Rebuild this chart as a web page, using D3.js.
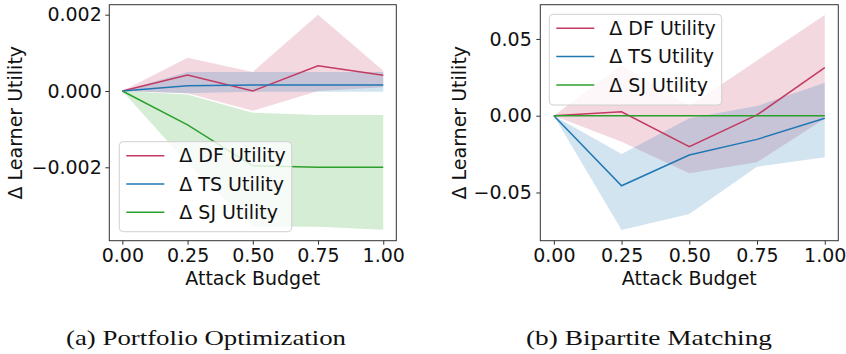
<!DOCTYPE html>
<html>
<head>
<meta charset="utf-8">
<style>
  body { margin: 0; background: #fff; }
  svg text { font-family: "DejaVu Sans", sans-serif; fill: #111; }
  .tick text { font-size: 19px; font-family: "DejaVu Sans", sans-serif; }
  .tick line { stroke: #333; }
  .domain { display: none; }
  .frame { fill: none; stroke: #333; stroke-width: 1; }
  .caption { font-family: "Liberation Serif", "DejaVu Serif", serif !important; font-size: 22px; }
</style>
</head>
<body>
<script src="https://d3js.org/d3.v7.min.js"></script>
<script>
// x values: attack budget
var budgets = [0, 0.25, 0.5, 0.75, 1.0];
var seriesNames = ["\u0394 DF Utility", "\u0394 TS Utility", "\u0394 SJ Utility"];
var seriesColors = ["#c23a62", "#1f77b4", "#2ca02c"];

// (a) Portfolio Optimization - mean, lower, upper
var pfDF   = [0, 0.00042, 0.0, 0.00066, 0.00041];
var pfDFLo = [0, -0.00006, -0.00052, 0.0, 0.0001];
var pfDFHi = [0, 0.00087, 0.0005, 0.002, 0.00053];
var pfTS   = [0, 0.00014, 0.00016, 0.00016, 0.00016];
var pfTSLo = [0, -0.00006, -0.00002, -0.00002, -0.00002];
var pfTSHi = [0, 0.0005, 0.0005, 0.0005, 0.0005];
var pfSJ   = [0, -0.00089, -0.00196, -0.002, -0.002];
var pfSJLo = [0, -0.0019, -0.00355, -0.00356, -0.00364];
var pfSJHi = [0, -0.00009, -0.00057, -0.00063, -0.00063];
var pfYTicks = [-0.002, 0, 0.002];

// (b) Bipartite Matching
var bmDF   = [0, 0.0025, -0.0202, 0.0005, 0.0313];
var bmDFLo = [0, -0.0169, -0.0375, -0.0303, -0.002];
var bmDFHi = [0, 0.033, 0.0063, 0.036, 0.0656];
var bmTS   = [0, -0.0456, -0.0256, -0.0154, -0.0017];
var bmTSLo = [0, -0.0744, -0.064, -0.0332, -0.027];
var bmTSHi = [0, -0.0249, -0.0017, 0.0063, 0.0215];
var bmSJ   = [0, 0, 0, 0, 0];
var bmSJLo = [0, -0.0003, -0.0003, -0.0003, -0.0003];
var bmSJHi = [0, 0.0003, 0.0003, 0.0003, 0.0003];
var bmYTicks = [-0.05, 0, 0.05];

var xTicks = [0, 0.25, 0.5, 0.75, 1.0];

var svg = d3.select("body").append("svg")
    .attr("width", 846)
    .attr("height", 354);

function fmt(spec) {
  var f = d3.format(spec);
  return function(v) { return f(v).replace("-", "\u2212"); };
}

function drawPanel(p) {
  var x = d3.scaleLinear().domain([-0.05, 1.05]).range([p.left, p.right]);
  var y = d3.scaleLinear().domain(p.yDomain).range([p.bottom, p.top]);
  var g = svg.append("g");

  var area = d3.area()
      .x(function(d, i) { return x(budgets[i]); })
      .y0(function(d) { return y(d[0]); })
      .y1(function(d) { return y(d[1]); });
  var line = d3.line()
      .x(function(d, i) { return x(budgets[i]); })
      .y(function(d) { return y(d); });

  // fill bands + lines, in series order
  p.series.forEach(function(s, k) {
    var band = s.lo.map(function(v, i) { return [v, s.hi[i]]; });
    g.append("path")
        .datum(band)
        .attr("d", area)
        .attr("fill", seriesColors[k])
        .attr("fill-opacity", 0.2);
  });
  p.series.forEach(function(s, k) {
    g.append("path")
        .datum(s.mean)
        .attr("d", line)
        .attr("fill", "none")
        .attr("stroke", seriesColors[k])
        .attr("stroke-width", 1.5);
  });

  // axes
  g.append("g")
      .attr("transform", "translate(0," + p.bottom + ")")
      .call(d3.axisBottom(x).tickValues(xTicks).tickFormat(d3.format(".2f")).tickSize(4).tickPadding(4));
  g.append("g")
      .attr("transform", "translate(" + p.left + ",0)")
      .call(d3.axisLeft(y).tickValues(p.yTicks).tickFormat(fmt(p.yFmt)).tickSize(4).tickPadding(p.yPad));

  g.append("rect")
      .attr("class", "frame")
      .attr("x", p.left).attr("y", p.top)
      .attr("width", p.right - p.left).attr("height", p.bottom - p.top);

  // axis labels
  g.append("text")
      .attr("x", (p.left + p.right) / 2)
      .attr("y", 285)
      .attr("text-anchor", "middle")
      .style("font-size", "19px")
      .text("Attack Budget");
  g.append("text")
      .attr("transform", "translate(" + p.yLabelX + "," + ((p.top + p.bottom) / 2) + ") rotate(-90)")
      .attr("text-anchor", "middle")
      .style("font-size", "19px")
      .text("\u0394 Learner Utility");

  // legend
  var L = p.legend;
  g.append("rect")
      .attr("x", L.x).attr("y", L.y)
      .attr("width", L.w).attr("height", L.h)
      .attr("rx", 4)
      .attr("fill", "#fff").attr("fill-opacity", 0.8)
      .attr("stroke", "#d0d0d0");
  seriesNames.forEach(function(name, k) {
    var cy = L.y + 14 + k * 28.3;
    g.append("line")
        .attr("x1", L.x + 7).attr("x2", L.x + 45)
        .attr("y1", cy).attr("y2", cy)
        .attr("stroke", seriesColors[k]).attr("stroke-width", 1.5);
    g.append("text")
        .attr("x", L.x + 60).attr("y", cy)
        .attr("dy", "0.35em")
        .style("font-size", "19px")
        .text(name);
  });

  // caption
  svg.append("text")
      .attr("class", "caption")
      .attr("x", p.captionX).attr("y", 345)
      .attr("text-anchor", "middle")
      .attr("textLength", p.captionW)
      .attr("lengthAdjust", "spacingAndGlyphs")
      .text(p.caption);
}

drawPanel({
  left: 109.3, right: 396.3, top: 4.7, bottom: 240.7,
  yDomain: [-0.003924, 0.002262], yTicks: pfYTicks, yFmt: ".3f", yPad: 3.5,
  yLabelX: 22,
  series: [
    {mean: pfDF, lo: pfDFLo, hi: pfDFHi},
    {mean: pfTS, lo: pfTSLo, hi: pfTSHi},
    {mean: pfSJ, lo: pfSJLo, hi: pfSJHi}
  ],
  legend: {x: 119.3, y: 141.7, w: 172.4, h: 90},
  caption: "(a) Portfolio Optimization", captionX: 206, captionW: 280
});

drawPanel({
  left: 540.3, right: 838.3, top: 4.7, bottom: 240.7,
  yDomain: [-0.0814, 0.0723], yTicks: bmYTicks, yFmt: ".2f", yPad: 4.5,
  yLabelX: 466,
  series: [
    {mean: bmDF, lo: bmDFLo, hi: bmDFHi},
    {mean: bmTS, lo: bmTSLo, hi: bmTSHi},
    {mean: bmSJ, lo: bmSJLo, hi: bmSJHi}
  ],
  legend: {x: 549.3, y: 14.3, w: 172.4, h: 90.7},
  caption: "(b) Bipartite Matching", captionX: 649, captionW: 246
});
</script>
</body>
</html>
